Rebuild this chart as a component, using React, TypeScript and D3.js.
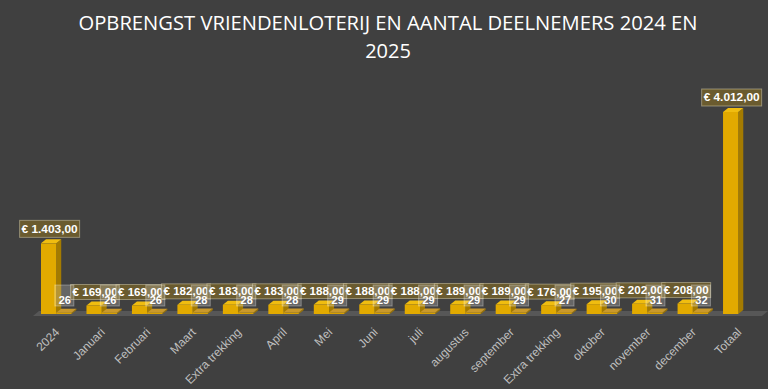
import React, { useEffect } from 'react';
import * as d3 from 'd3';

const categories = ['2024', 'Januari', 'Februari', 'Maart', 'Extra trekking', 'April', 'Mei', 'Juni', 'juli', 'augustus', 'september', 'Extra trekking', 'oktober', 'november', 'december', 'Totaal'];
const amounts = [1403, 169, 169, 182, 183, 183, 188, 188, 188, 189, 189, 176, 195, 202, 208, 4012];
const participants: (number | null)[] = [26, 26, 26, 28, 28, 28, 29, 29, 29, 29, 29, 27, 30, 31, 32, null];
const seriesKeys = ['amount', 'count'];

const title1 = 'OPBRENGST VRIENDENLOTERIJ EN AANTAL DEELNEMERS 2024 EN';
const title2 = '2025';

const W = 768;
const H = 389;
const base = 314;
const dx = 5; // 3d depth offset
const dy = 4;

const nl = d3.formatLocale({ decimal: ',', thousands: '.', grouping: [3], currency: ['€ ', ''] });
const euro = nl.format('$,.2f');

const x = d3.scaleBand<number>().domain(d3.range(categories.length)).range([41, 753.5]).paddingInner(0.33).paddingOuter(0);
const xInner = d3.scaleBand<string>().domain(seriesKeys).range([0, x.bandwidth()]);
const y = d3.scaleLinear().domain([0, 4012]).range([base, 112]);

type BarProps = { x0: number; w: number; top: number; front: string; side: string; topc: string };

const Bar3D = ({ x0, w, top, front, side, topc }: BarProps) => (
  <g>
    <polygon points={`${x0 + w},${top} ${x0 + w + dx},${top - dy} ${x0 + w + dx},${base - dy} ${x0 + w},${base}`} fill={side} />
    <polygon points={`${x0},${top} ${x0 + dx},${top - dy} ${x0 + w + dx},${top - dy} ${x0 + w},${top}`} fill={topc} />
    <rect x={x0} y={top} width={w} height={Math.max(base - top, 0.5)} fill={front} />
  </g>
);

export default function App() {
  useEffect(() => {
    document.body.style.margin = '0';
  }, []);

  const amountX = (i: number) => (x(i) as number) + (xInner('amount') as number);
  const countX = (i: number) => (x(i) as number) + (xInner('count') as number);
  const bw = xInner.bandwidth();

  return (
    <svg width={W} height={H} style={{ display: 'block', background: '#404040' }} fontFamily="'Liberation Sans', Arial, sans-serif">
      <rect width={W} height={H} fill="#404040" />
      <text x={388} y={30} textAnchor="middle" fill="#ffffff" fontSize={20} fontFamily="'Open Sans', sans-serif" textLength={619} lengthAdjust="spacingAndGlyphs">
        {title1}
      </text>
      <text x={388} y={58} textAnchor="middle" fill="#ffffff" fontSize={20} fontFamily="'Open Sans', sans-serif">
        {title2}
      </text>

      {/* floor */}
      <polygon points={`33,316 762,316 768,311 39,311`} fill="#575757" />

      {/* bars */}
      {categories.map((_, i) => (
        <g key={`b${i}`}>
          <Bar3D x0={amountX(i)} w={bw} top={y(amounts[i])} front="#e2aa00" side="#a47b00" topc="#f0bd10" />
          {participants[i] !== null && (
            <Bar3D x0={countX(i)} w={bw} top={y(participants[i] as number)} front="#d9a000" side="#9a7300" topc="#c9982c" />
          )}
        </g>
      ))}

      {/* amount labels */}
      {categories.map((_, i) => {
        const big = amounts[i] > 1000;
        const bwid = big ? 60 : 49;
        const bh = big ? 17 : 15;
        const cx = amountX(i) + bw / 2 + 1;
        const bottom = y(amounts[i]) - 6;
        return (
          <g key={`a${i}`}>
            <rect x={cx - bwid / 2} y={bottom - bh} width={bwid} height={bh} fill="#6f5e2c" fillOpacity={0.88} stroke="#d8cfae" strokeOpacity={0.5} strokeWidth={1} />
            <text x={cx} y={bottom - bh / 2} dy="0.36em" textAnchor="middle" fill="#ffffff" fontSize={11} fontWeight="bold" textLength={bwid - 4} lengthAdjust="spacingAndGlyphs">
              {euro(amounts[i])}
            </text>
          </g>
        );
      })}

      {/* participant labels */}
      {categories.map((_, i) =>
        participants[i] === null ? null : (
          <g key={`c${i}`}>
            <rect x={countX(i) + bw / 2 - 9} y={285} width={19} height={21} fill="#ffffff" fillOpacity={0.2} stroke="#ffffff" strokeOpacity={0.3} />
            <text x={countX(i) + bw / 2 + 1} y={304} textAnchor="middle" fill="#ffffff" fontSize={11} fontWeight="bold">
              {participants[i]}
            </text>
          </g>
        )
      )}

      {/* x axis labels */}
      {categories.map((c, i) => {
        const cx = (x(i) as number) + x.bandwidth() / 2 + 1;
        return (
          <text key={`l${i}`} transform={`translate(${cx},${330}) rotate(-45)`} textAnchor="end" dy="0.35em" fill="#bfbfbf" fontSize={12}>
            {c}
          </text>
        );
      })}
    </svg>
  );
}
